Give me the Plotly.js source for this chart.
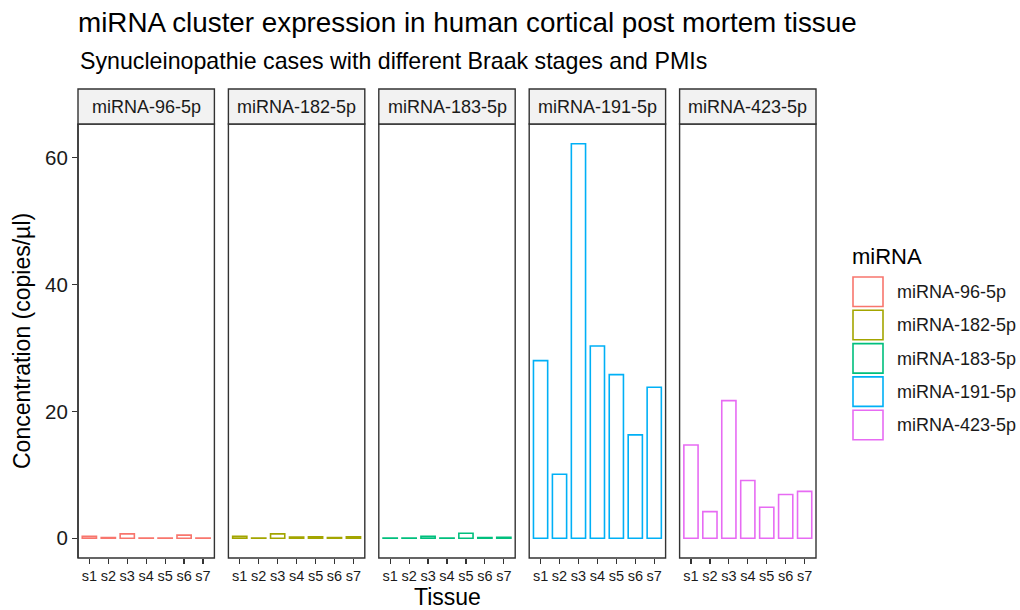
<!DOCTYPE html>
<html>
<head>
<meta charset="utf-8">
<script src="https://cdn.plot.ly/plotly-3.0.1.min.js"></script>
<style>
  html, body { margin: 0; padding: 0; background: #ffffff; }
  #chart { width: 1020px; height: 610px; }
</style>
</head>
<body>
<div id="chart"></div>
<script>
// Tissue samples (x categories)
const samples = ['s1', 's2', 's3', 's4', 's5', 's6', 's7'];

// miRNA names, one facet each
const mirnas = ['miRNA-96-5p', 'miRNA-182-5p', 'miRNA-183-5p', 'miRNA-191-5p', 'miRNA-423-5p'];

// Concentration (copies/µl) per sample
const mir96 = [0.3, 0.1, 0.7, 0.05, 0.05, 0.5, 0.05];
const mir182 = [0.3, 0.05, 0.7, 0.2, 0.25, 0.1, 0.25];
const mir183 = [0.05, 0.05, 0.3, 0.05, 0.8, 0.1, 0.15];
const mir191 = [28.0, 10.1, 62.2, 30.3, 25.8, 16.3, 23.8];
const mir423 = [14.7, 4.2, 21.7, 9.1, 4.9, 6.9, 7.4];

const seriesValues = [mir96, mir182, mir183, mir191, mir423];

// ggplot-style hue palette
const colors = ['#F8766D', '#A3A500', '#00BF7D', '#00B0F6', '#E76BF3'];

const yTicks = [0, 20, 40, 60];

// ---- layout geometry (pixels) ----
const W = 1020, H = 610;
const M = { l: 78, r: 204, t: 124, b: 52 };
const plotW = W - M.l - M.r;
const plotH = H - M.t - M.b;
const gapPx = 14;
const panelPx = (plotW - gapPx * 4) / 5;
const px2x = p => (p - M.l) / plotW;          // pixel x -> paper x
const py2y = p => (H - M.b - p) / plotH;      // pixel y -> paper y

const fontFam = 'Liberation Sans, Arial, Helvetica, sans-serif';

const yMax = Math.max(...seriesValues.flat());
const yRange = [-0.05 * yMax, yMax * 1.05];

const traces = [];
const layout = {
  width: W, height: H,
  margin: { l: M.l, r: M.r, t: M.t, b: M.b, pad: 0 },
  paper_bgcolor: '#ffffff',
  plot_bgcolor: 'rgba(0,0,0,0)',
  showlegend: false,
  font: { family: fontFam, color: '#1a1a1a' },
  title: {
    text: 'miRNA cluster expression in human cortical post mortem tissue',
    font: { family: fontFam, size: 27.8, color: '#000000' },
    x: 78 / W, xanchor: 'left', xref: 'container',
    y: 1 - 22 / H, yanchor: 'middle', yref: 'container'
  },
  shapes: [],
  annotations: []
};

layout.yaxis = {
  range: yRange,
  tickvals: yTicks,
  ticktext: yTicks.map(String),
  ticks: 'outside', ticklen: 5, tickwidth: 1.2, tickcolor: '#333333',
  showline: false, showgrid: false, zeroline: false,
  tickfont: { family: fontFam, size: 20.5, color: '#1a1a1a' },
  anchor: 'x', fixedrange: true
};

mirnas.forEach((name, i) => {
  const sfx = i === 0 ? '' : String(i + 1);
  const x0p = M.l + i * (panelPx + gapPx);
  const x1p = x0p + panelPx;
  const dom = [px2x(x0p), px2x(x1p)];

  layout['xaxis' + sfx] = {
    domain: dom,
    type: 'category',
    categoryorder: 'array', categoryarray: samples,
    range: [-0.6, samples.length - 0.4],
    ticks: 'outside', ticklen: 5, tickwidth: 1.2, tickcolor: '#333333',
    showline: false, showgrid: false, zeroline: false,
    tickfont: { family: fontFam, size: 14.5, color: '#1a1a1a' },
    anchor: 'y', fixedrange: true
  };

  traces.push({
    type: 'bar',
    x: samples,
    y: seriesValues[i],
    xaxis: 'x' + sfx,
    yaxis: 'y',
    width: 0.75,
    name: name,
    marker: { color: 'rgba(255,255,255,0)', line: { color: colors[i], width: 1.6 } },
    hoverinfo: 'x+y'
  });

  // panel border
  layout.shapes.push({
    type: 'rect', xref: 'paper', yref: 'paper',
    x0: dom[0], x1: dom[1], y0: 0, y1: 1,
    line: { color: '#333333', width: 1.4 }, fillcolor: 'rgba(0,0,0,0)', layer: 'above'
  });
  // strip
  layout.shapes.push({
    type: 'rect', xref: 'paper', yref: 'paper',
    x0: dom[0], x1: dom[1], y0: 1, y1: py2y(89),
    line: { color: '#333333', width: 1.4 }, fillcolor: '#F2F2F2', layer: 'above'
  });
  layout.annotations.push({
    xref: 'paper', yref: 'paper',
    x: (dom[0] + dom[1]) / 2, y: py2y(106.5),
    xanchor: 'center', yanchor: 'middle',
    text: name, showarrow: false,
    font: { family: fontFam, size: 18, color: '#1a1a1a' }
  });
});

// subtitle
layout.annotations.push({
  xref: 'paper', yref: 'paper', x: 0, y: py2y(61),
  xanchor: 'left', yanchor: 'middle', showarrow: false,
  text: 'Synucleinopathie cases with different Braak stages and PMIs',
  font: { family: fontFam, size: 23.2, color: '#000000' }
});

// axis titles
layout.annotations.push({
  xref: 'paper', yref: 'paper', x: 0.5, y: py2y(597),
  xanchor: 'center', yanchor: 'middle', showarrow: false,
  text: 'Tissue', font: { family: fontFam, size: 23, color: '#000000' }
});
layout.annotations.push({
  xref: 'paper', yref: 'paper', x: px2x(22), y: py2y(341),
  xanchor: 'center', yanchor: 'middle', showarrow: false, textangle: -90,
  text: 'Concentration (copies/µl)', font: { family: fontFam, size: 23, color: '#000000' }
});

// y axis line on first panel
layout.shapes.push({
  type: 'line', xref: 'paper', yref: 'paper', x0: 0, x1: 0, y0: 0, y1: 1,
  line: { color: '#333333', width: 1.4 }
});

// legend drawn as keys + labels
layout.annotations.push({
  xref: 'paper', yref: 'paper', x: px2x(850), y: py2y(256),
  xanchor: 'left', yanchor: 'middle', showarrow: false,
  text: 'miRNA', font: { family: fontFam, size: 22, color: '#000000' }
});
mirnas.forEach((name, i) => {
  const top = 277 + i * 33.3;
  layout.shapes.push({
    type: 'rect', xref: 'paper', yref: 'paper',
    x0: px2x(853), x1: px2x(883), y0: py2y(top + 29.5), y1: py2y(top),
    line: { color: colors[i], width: 1.6 }, fillcolor: '#ffffff'
  });
  layout.annotations.push({
    xref: 'paper', yref: 'paper', x: px2x(895), y: py2y(top + 15),
    xanchor: 'left', yanchor: 'middle', showarrow: false,
    text: name, font: { family: fontFam, size: 18, color: '#1a1a1a' }
  });
});

Plotly.newPlot('chart', traces, layout, { displayModeBar: false, staticPlot: true });
</script>
</body>
</html>
